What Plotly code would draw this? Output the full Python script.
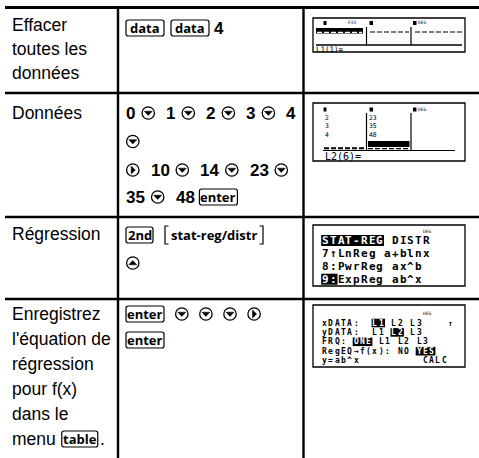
import plotly.graph_objects as go

W, H = 479, 458

# ---------------- content ----------------
row_labels = [
    ["Effacer", "toutes les", "données"],
    ["Données"],
    ["Régression"],
    ["Enregistrez", "l'équation de", "régression", "pour f(x)", "dans le"],
]
last_label_tokens = [("t", "menu"), ("k", "table"), ("t", ".")]

row_keys = [
    [[("k", "data"), ("k", "data"), ("n", "4")]],
    [[("n", "0"), ("c", "down"), ("n", "1"), ("c", "down"), ("n", "2"), ("c", "down"),
      ("n", "3"), ("c", "down"), ("n", "4")],
     [("c", "down")],
     [("c", "right"), ("n", "10"), ("c", "down"), ("n", "14"), ("c", "down"),
      ("n", "23"), ("c", "down")],
     [("n", "35"), ("c", "down"), ("n", "48"), ("k", "enter")]],
    [[("k", "2nd"), ("b", "stat-reg/distr")],
     [("c", "up")]],
    [[("k", "enter"), ("c", "down"), ("c", "down"), ("c", "down"), ("c", "right")],
     [("k", "enter")]],
]

screen1_status = "L1(1)="
screen2_L1 = ["2", "3", "4"]
screen2_L2 = ["23", "35", "48"]
screen2_status = "L2(6)="
screen3_lines = [
    [("STAT-REG", True), (" DISTR", False)],
    [("7↑LnReg a+blnx", False)],
    [("8:PwrReg ax^b", False)],
    [("9:", True), ("ExpReg ab^x", False)],
]
screen4_lines = [
    [("xDATA:  ", False), ("L1", True), (" L2 L3    ↑", False)],
    [("yDATA:  L1 ", False), ("L2", True), (" L3", False)],
    [("FRQ: ", False), ("ONE", True), (" L1 L2 L3", False)],
    [("RegEQ→f(x): NO ", False), ("YES", True)],
    [("y=ab^x          CALC", False)],
]

# ---------------- layout / style ----------------
SANS = "Liberation Sans, Arial, sans-serif"
KEYF = "Open Sans, sans-serif"
MONO = "DejaVu Sans Mono, monospace"

LABEL_SIZE = 17.5
DIGIT_SIZE = 17
col_x = [118, 303.5]
row_lines = [93, 217, 299]
top_line = 7.5
label_x = 12
label_y = [[25, 49, 73], [113], [234], [314, 339, 364, 389, 414, 439]]
key_x = 126
key_y = [[28], [113, 141.5, 170, 197], [235, 263], [314, 340]]

DIGIT_W = 0.556 * DIGIT_SIZE
CIRC_D = 13.6
KEY_W = {"data": 38, "enter": 38, "2nd": 27, "table": 36}
TEXT_W = {"menu": 2.501 * LABEL_SIZE, ".": 0.278 * LABEL_SIZE}
KEY_H = 16
BRACKET_W = 98
GAPS = {("k", "k"): 7, ("k", "n"): 5, ("n", "c"): 6, ("c", "n"): 11,
        ("n", "k"): 5, ("k", "c"): 11, ("c", "c"): 10.5, ("k", "b"): 12,
        ("t", "k"): 6, ("k", "t"): 2.5}

shapes = []
annotations = []


def txt(x, y, s, size, family, color="black", weight="normal", xanchor="left"):
    annotations.append(dict(
        x=x, y=y, xref="x", yref="y", text=s, showarrow=False,
        xanchor=xanchor, yanchor="middle", borderpad=0, borderwidth=0,
        font=dict(size=size, family=family, color=color, weight=weight)))


def line(x0, y0, x1, y1, w=1.2, color="black", dash="solid"):
    shapes.append(dict(type="line", xref="x", yref="y", x0=x0, y0=y0, x1=x1, y1=y1,
                       line=dict(color=color, width=w, dash=dash)))


def rect(x0, y0, x1, y1, fill=None, lw=0, lc="black"):
    shapes.append(dict(type="rect", xref="x", yref="y", x0=x0, y0=y0, x1=x1, y1=y1,
                       fillcolor=fill if fill else "rgba(0,0,0,0)",
                       line=dict(color=lc, width=lw)))


def path(p, fill=None, lw=1.2):
    shapes.append(dict(type="path", xref="x", yref="y", path=p,
                       fillcolor=fill if fill else "rgba(0,0,0,0)",
                       line=dict(color="black", width=lw)))


def key_box(x, y, name):
    w = KEY_W[name]
    r = 2.2
    x0, x1, y0, y1 = x, x + w, y - KEY_H / 2, y + KEY_H / 2
    p = (f"M{x0+r},{y0} L{x1-r},{y0} Q{x1},{y0} {x1},{y0+r} L{x1},{y1-r} "
         f"Q{x1},{y1} {x1-r},{y1} L{x0+r},{y1} Q{x0},{y1} {x0},{y1-r} "
         f"L{x0},{y0+r} Q{x0},{y0} {x0+r},{y0} Z")
    path(p, lw=1.2)
    txt(x + w / 2, y + 0.3, name, 13, KEYF, weight="bold", xanchor="center")
    return w


def circle_key(x, y, direction):
    r = CIRC_D / 2
    cx, cy = x + r, y
    shapes.append(dict(type="circle", xref="x", yref="y", x0=cx - r + 0.6, y0=cy - r + 0.6,
                       x1=cx + r - 0.6, y1=cy + r - 0.6, line=dict(color="black", width=1.3)))
    if direction == "down":
        p = f"M{cx-4},{cy-1.8} L{cx+4},{cy-1.8} L{cx},{cy+2.4} Z"
    elif direction == "up":
        p = f"M{cx-4},{cy+1.8} L{cx+4},{cy+1.8} L{cx},{cy-2.4} Z"
    else:
        p = f"M{cx-1.6},{cy-4} L{cx-1.6},{cy+4} L{cx+2.5},{cy} Z"
    path(p, fill="black", lw=0.5)
    return CIRC_D


def bracket(x, y, label):
    y0, y1 = y - 9, y + 9
    path(f"M{x+3.5},{y0} L{x},{y0} L{x},{y1} L{x+3.5},{y1}", lw=1.2)
    xr = x + BRACKET_W
    path(f"M{xr-3.5},{y0} L{xr},{y0} L{xr},{y1} L{xr-3.5},{y1}", lw=1.2)
    txt(x + BRACKET_W / 2, y + 0.3, label, 13, KEYF, weight="bold", xanchor="center")
    return BRACKET_W


def layout_tokens(tokens, x, y):
    prev = None
    for kind, val in tokens:
        if prev:
            x += GAPS[(prev, kind)]
        if kind == "n":
            txt(x, y, val, DIGIT_SIZE, SANS, weight="bold")
            x += len(val) * DIGIT_W
        elif kind == "t":
            txt(x, y, val, LABEL_SIZE, SANS)
            x += TEXT_W[val]
        elif kind == "c":
            x += circle_key(x, y, val)
        elif kind == "k":
            x += key_box(x, y, val)
        elif kind == "b":
            x += bracket(x, y, val)
        prev = kind


# ---------------- table grid ----------------
line(5, top_line, W, top_line, w=3)
for yl in row_lines:
    line(5, yl, W, yl, w=2.4)
for xc in col_x:
    line(xc, top_line, xc, H, w=2.4)

# ---------------- column 1 ----------------
for labels, ys in zip(row_labels, label_y):
    for s, yy in zip(labels, ys):
        txt(label_x, yy, s, LABEL_SIZE, SANS)
layout_tokens(last_label_tokens, label_x, label_y[3][-1])

# ---------------- column 2 ----------------
for lines_, ys in zip(row_keys, key_y):
    for toks, yy in zip(lines_, ys):
        layout_tokens(toks, key_x, yy)

# ---------------- column 3: screens ----------------
screen_boxes = [(313, 18, 465, 52), (313, 103, 465, 161), (313, 225, 465, 286), (313, 305, 465, 367)]
for (x0, y0, x1, y1) in screen_boxes:
    rect(x0, y0, x1, y1, lw=1.3)


def header_icons(y, fix=False):
    rect(323.5, y - 2, 326.5, y + 2, fill="black")
    if fix:
        txt(348, y - 0.5, "FIX", 4.5, MONO)
    rect(369.5, y - 2, 373, y + 2, fill="black")
    rect(413, y - 2, 416.5, y + 2, fill="black")
    txt(417.5, y - 0.5, "DEG", 4.5, MONO)


# screen 1
header_icons(23, fix=True)
rect(316, 28, 363, 33.5, fill="black")
line(317, 32.3, 362, 32.3, w=1.2, color="white", dash="5px,2px")
line(370, 32, 409, 32, w=1.2, dash="5px,2px")
line(415, 32, 462, 32, w=1.2, dash="5px,2px")
line(366.5, 27, 366.5, 45, w=1.2)
line(411, 27, 411, 45, w=1.2)
line(316, 45, 462, 45, w=1.3)
txt(316, 49, screen1_status, 7.5, MONO)

# screen 2
header_icons(109.5)
txt(324.5, 126.5, "<br>".join(screen2_L1), 6.4, MONO)
txt(369, 126.5, "<br>".join(screen2_L2), 6.4, MONO)
line(366.5, 113, 366.5, 150, w=1.2)
line(411, 113, 411, 150, w=1.2)
rect(368, 141, 409.5, 147, fill="black")
line(368, 148.6, 409.5, 148.6, w=1.2, dash="5px,2px")
line(324, 148.3, 365, 148.3, w=2, dash="5px,2px")
line(323, 150.5, 455, 150.5, w=1.2)
txt(324.5, 156.3, screen2_status, 10, MONO)


def screen_line(x0, y, cw, size, segments, inv_h):
    """LCD text on a fixed character grid: one glyph per cell."""
    idx = 0
    for text, inv in segments:
        if inv:
            rect(x0 + idx * cw - 0.8, y - inv_h / 2, x0 + (idx + len(text)) * cw,
                 y + inv_h / 2, fill="black")
        for k, ch in enumerate(text):
            if ch != " ":
                txt(x0 + (idx + k) * cw, y, ch, size, MONO,
                    color="white" if inv else "black", weight="bold")
        idx += len(text)


# screen 3
txt(423, 231, "DEG", 4.5, MONO)
for i, segs in enumerate(screen3_lines):
    screen_line(322, 240.5 + 12.9 * i, 7.75, 11, segs, 11)

# screen 4
txt(423, 313.5, "DEG", 4.5, MONO)
for i, segs in enumerate(screen4_lines):
    screen_line(322, 323 + 9.4 * i, 6.3, 8, segs, 8.6)

fig = go.Figure()
fig.update_layout(
    width=W, height=H, margin=dict(l=0, r=0, t=0, b=0),
    paper_bgcolor="white", plot_bgcolor="white",
    xaxis=dict(range=[0, W], visible=False, fixedrange=True),
    yaxis=dict(range=[H, 0], visible=False, fixedrange=True),
    shapes=shapes, annotations=annotations, showlegend=False,
)
fig.write_html("out.html", config={"displayModeBar": False},
               post_script="document.body.style.margin='0px';")
